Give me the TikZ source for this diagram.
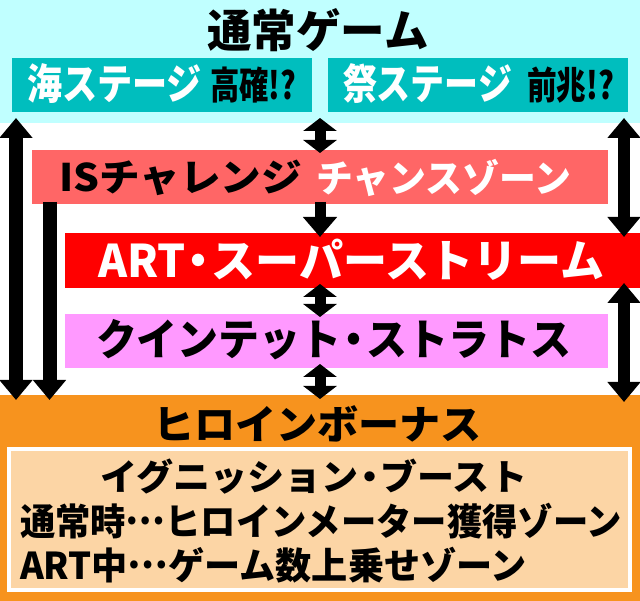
\documentclass[tikz,border=0pt]{standalone}
\usepackage{fontspec}
\usepackage{graphicx}
\setmainfont{Noto Sans CJK JP}[UprightFont={* Black},BoldFont={* Black}]
\usetikzlibrary{arrows.meta}
\definecolor{cyanL}{RGB}{192,255,255}
\definecolor{tealB}{RGB}{0,190,190}
\definecolor{salmon}{RGB}{255,102,102}
\definecolor{redB}{RGB}{255,0,0}
\definecolor{pinkB}{RGB}{255,153,255}
\definecolor{orangeB}{RGB}{247,147,30}
\definecolor{peach}{RGB}{252,213,165}
\newlength\tmplen
\newcommand\ftext[3]{\fontsize{#1}{#1}\selectfont\settowidth\tmplen{#3}\pgfmathsetmacro\xs{#2/\tmplen}\scalebox{\xs}[1]{#3}}
\newcommand\nakadot{\makebox[0.6em]{・}}
\newcommand\midell{\raisebox{0.3em}{…}}
\begin{document}
\begin{tikzpicture}[x=1pt,y=-1pt,
  region/.style={fill=#1,draw=none,inner sep=0pt,outer sep=0pt,anchor=north west},
  txt/.style={inner sep=0pt,outer sep=0pt,anchor=center,text=#1},
  carr/.style={line width=11pt,draw=black},
  sarr/.style={line width=14pt,draw=black},
  ctipb/.style={{Triangle[width=33pt,length=13pt]}-{Triangle[width=33pt,length=13pt]}},
  ctipd/.style={-{Triangle[width=33pt,length=20pt]}},
  stipb/.style={{Triangle[width=32pt,length=20pt]}-{Triangle[width=32pt,length=20pt]}},
  stip/.style={-{Triangle[width=32pt,length=20pt]}}
]
\useasboundingbox (0,0) rectangle (640,601);
\fill[white] (0,0) rectangle (640,601);
% regions
\node[region=cyanL,minimum width=640pt,minimum height=123pt] (normal) at (0,0) {};
\node[region=tealB,minimum width=300pt,minimum height=54pt] (sea) at (12,58) {};
\node[region=tealB,minimum width=300pt,minimum height=54pt] (fest) at (328,58) {};
\node[region=salmon,minimum width=576pt,minimum height=54pt] (isc) at (32,150) {};
\node[region=redB,minimum width=575pt,minimum height=55pt] (art) at (65,233) {};
\node[region=pinkB,minimum width=543pt,minimum height=54pt] (quint) at (65,314) {};
\node[region=orangeB,minimum width=640pt,minimum height=206pt] (bonus) at (0,395) {};
\node[region=peach,draw=white,line width=3.5pt,minimum width=621pt,minimum height=141pt] (ign) at (9,449) {};
% texts
\node[txt=black] (t1) at (318,30) {\ftext{45pt}{221}{通常ゲーム}};
\node[txt=white] (t2) at (114.5,84) {\ftext{42pt}{175}{海ステージ}};
\node[txt=black] (t3) at (253,85) {\ftext{38pt}{86}{高確!?}};
\node[txt=white] (t4) at (427.5,84) {\ftext{42pt}{169}{祭ステージ}};
\node[txt=black] (t5) at (570.5,85) {\ftext{38pt}{87}{前兆!?}};
\node[txt=black] (t6) at (180.5,178) {\ftext{38pt}{243}{ISチャレンジ}};
\node[txt=white] (t7) at (443.5,178) {\ftext{38pt}{255}{チャンスゾーン}};
\node[txt=white] (t8) at (351,260) {\ftext{45pt}{506}{ART\nakadot スーパーストリーム}};
\node[txt=black] (t9) at (333.5,340) {\ftext{43pt}{475}{クインテット\nakadot ストラトス}};
\node[txt=black] (t10) at (317.5,424) {\ftext{40pt}{329}{ヒロインボーナス}};
\node[txt=black] (t11) at (313.5,477) {\ftext{36pt}{427}{イグニッション\nakadot ブースト}};
\node[txt=black,anchor=west] (t12) at (20,521) {\ftext{37pt}{602}{通常時\midell ヒロインメーター獲得ゾーン}};
\node[txt=black,anchor=west] (t13) at (20,565) {\ftext{37pt}{507}{ART中\midell ゲーム数上乗せゾーン}};
% connector columns
\coordinate (L1) at (16,0);
\coordinate (L2) at (49.5,0);
\coordinate (C) at (320,0);
\coordinate (R) at (624,0);
% connectors
\draw[sarr,stipb] ([yshift=5pt]normal.south -| L1) -- ([yshift=-5pt]bonus.north -| L1);
\draw[sarr,stip] ([yshift=2pt]isc.south -| L2) -- ([yshift=-5pt]bonus.north -| L2);
\draw[carr,ctipb] ([yshift=5pt]normal.south -| C) -- ([yshift=-3pt]isc.north -| C);
\draw[carr,ctipd] ([yshift=2pt]isc.south -| C) -- ([yshift=-4pt]art.north -| C);
\draw[carr,ctipb] ([yshift=4pt]art.south -| C) -- ([yshift=-3pt]quint.north -| C);
\draw[carr,ctipb] ([yshift=4pt]quint.south -| C) -- ([yshift=-4pt]bonus.north -| C);
\draw[sarr,stipb,line width=12pt] ([yshift=5pt]normal.south -| R) -- ([yshift=-4pt]art.north -| R);
\draw[sarr,stipb,line width=12pt] ([yshift=5pt]art.south -| R) -- ([yshift=-7pt]bonus.north -| R);
\end{tikzpicture}
\end{document}
